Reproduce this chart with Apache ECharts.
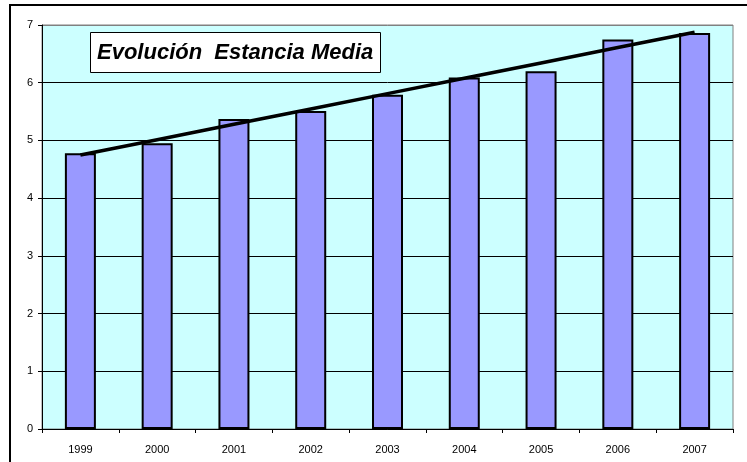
<!DOCTYPE html>
<html>
<head>
<meta charset="utf-8">
<script src="https://cdn.jsdelivr.net/npm/echarts@6/dist/echarts.min.js"></script>
<style>
  html, body { margin: 0; padding: 0; background: #fff; }
  #chart { width: 747px; height: 462px; }
</style>
</head>
<body>
<div id="chart"></div>
<script>
// datos
var years = ['1999', '2000', '2001', '2002', '2003', '2004', '2005', '2006', '2007']
var estancia = [4.78, 4.95, 5.37, 5.51, 5.79, 6.09, 6.20, 6.75, 6.86]
var yTicks = [0, 1, 2, 3, 4, 5, 6, 7]

// línea de tendencia lineal (como Excel)
function tendencia(vals) {
  var n = vals.length
  var mx = (n - 1) / 2
  var my = vals.reduce(function (a, b) { return a + b }, 0) / n
  var num = 0
  var den = 0
  vals.forEach(function (v, i) {
    num += (i - mx) * (v - my)
    den += (i - mx) * (i - mx)
  })
  var m = num / den
  return vals.map(function (v, i) { return +(my + m * (i - mx)).toFixed(3) })
}

// la última línea (arriba) queda gris como el borde del área
var gridColors = yTicks.map(function (t, i) {
  return i === yTicks.length - 1 ? '#808080' : '#000'
})

var chart = echarts.init(document.getElementById('chart'))

var option = {
  animation: false,
  title: {
    text: 'Evolución  Estancia Media',
    left: 90,
    top: 32,
    padding: [9, 7, 8, 7],
    backgroundColor: '#fff',
    borderColor: '#000',
    borderWidth: 1,
    textStyle: {
      fontFamily: 'Arial, "Liberation Sans"',
      fontStyle: 'italic',
      fontWeight: 'bold',
      fontSize: 22,
      lineHeight: 24,
      color: '#000'
    }
  },
  graphic: [
    {
      type: 'rect',
      shape: { x: 10, y: 5, width: 800, height: 500 },
      style: { fill: null, stroke: '#000', lineWidth: 2 },
      silent: true
    }
  ],
  grid: {
    left: 42,
    top: 25,
    right: 14,
    bottom: 33,
    show: true,
    backgroundColor: '#CCFFFF',
    borderColor: '#808080',
    borderWidth: 1
  },
  xAxis: {
    type: 'category',
    data: years,
    axisLine: { lineStyle: { color: '#000', width: 1 } },
    axisTick: { show: true, length: 4, lineStyle: { color: '#000' } },
    axisLabel: {
      color: '#000',
      fontSize: 11,
      fontFamily: 'Arial, "Liberation Sans"',
      margin: 15
    }
  },
  yAxis: {
    type: 'value',
    min: yTicks[0],
    max: yTicks[yTicks.length - 1],
    interval: 1,
    axisLine: { show: true, lineStyle: { color: '#000', width: 1 } },
    axisTick: { show: true, length: 4, lineStyle: { color: '#000' } },
    axisLabel: {
      color: '#000',
      fontSize: 11,
      fontFamily: 'Arial, "Liberation Sans"',
      margin: 9
    },
    splitLine: { show: true, lineStyle: { color: gridColors, width: 1 } }
  },
  series: [
    {
      name: 'Estancia media',
      type: 'bar',
      data: estancia,
      barWidth: 31,
      itemStyle: {
        color: '#9999FF',
        borderColor: '#000',
        borderWidth: 2
      }
    },
    {
      name: 'Tendencia',
      type: 'line',
      data: tendencia(estancia),
      symbol: 'none',
      lineStyle: { color: '#000', width: 3.5 },
      z: 5
    }
  ]
}

chart.setOption(option, true)
</script>
</body>
</html>
